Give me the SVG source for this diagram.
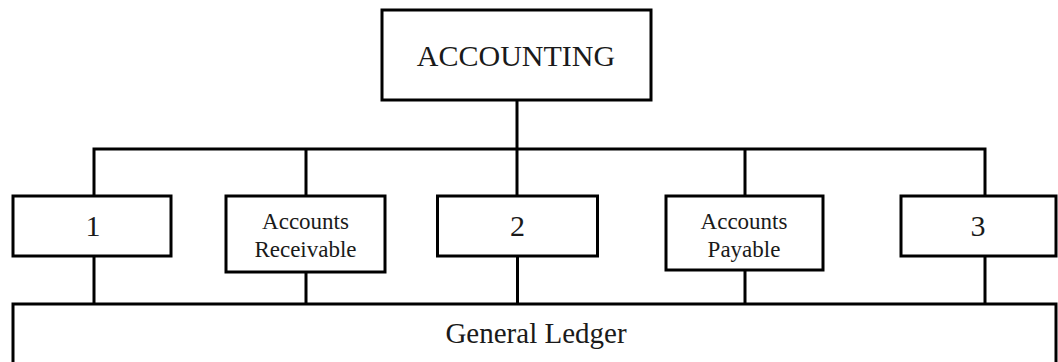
<svg xmlns="http://www.w3.org/2000/svg" width="1058" height="362" viewBox="0 0 1058 362">
<style>
.box{fill:#fff;stroke:#000;stroke-width:3}
.ln{fill:none;stroke:#000;stroke-width:3}
text{font-family:"Liberation Serif","Times New Roman",serif;fill:#1a1a1a;text-anchor:middle}
.sm{font-size:23px}
.dg{font-size:30px}
</style>
<rect width="1058" height="362" fill="#fff"/>
<g id="connectors">
<path class="ln" d="M517,100 V149 M94,196 V149 H985 V196 M306,149 V196 M517,149 V196 M745,149 V196"/>
<path class="ln" d="M94,256 V304 M306,272 V304 M517.5,256 V304 M745,270 V304 M985,256 V304"/>
</g>
<g id="accounting"><rect class="box" x="382" y="10" width="269" height="90"/><text x="516" y="66" style="font-size:30px">ACCOUNTING</text></g>
<g id="n1"><rect class="box" x="13" y="196" width="158" height="60"/><text class="dg" x="93" y="236">1</text></g>
<g id="ar"><rect class="box" x="226" y="196" width="159" height="76"/><text class="sm" x="305.5" y="229">Accounts</text><text class="sm" x="305.5" y="257">Receivable</text></g>
<g id="n2"><rect class="box" x="437.5" y="196" width="160" height="60"/><text class="dg" x="517.5" y="236">2</text></g>
<g id="ap"><rect class="box" x="666" y="196" width="157" height="74"/><text class="sm" x="744" y="229">Accounts</text><text class="sm" x="744" y="257">Payable</text></g>
<g id="n3"><rect class="box" x="901" y="196" width="155" height="60"/><text class="dg" x="978" y="236">3</text></g>
<g id="gl"><rect class="box" x="13" y="304" width="1043" height="80"/><text x="536" y="343" style="font-size:29px">General Ledger</text></g>
</svg>
